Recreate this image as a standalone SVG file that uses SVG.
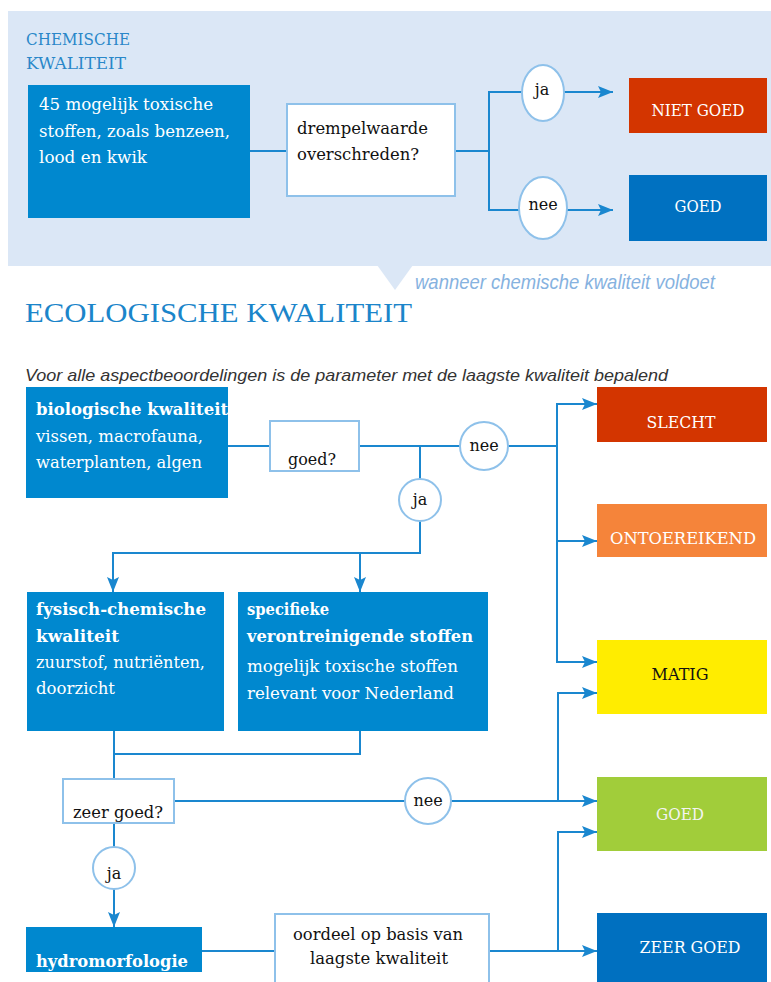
<svg xmlns="http://www.w3.org/2000/svg" width="771" height="982" viewBox="0 0 771 982">
<defs>
<style>
.t{font-family:"DejaVu Serif","Liberation Serif",serif;font-size:17px;}
.h{font-size:17.5px;}
.w{fill:#ffffff;}
.k{fill:#111111;}
.b{font-weight:bold;}
.c{text-anchor:middle;}
.box{fill:#0088cf;}
.q{fill:#ffffff;stroke:#8ec1ea;stroke-width:2;}
.cn{fill:none;stroke:#1a87cf;stroke-width:2;}
.ar{fill:none;stroke:#1a87cf;stroke-width:2;marker-end:url(#ah);}
.lbl{font-family:"DejaVu Serif","Liberation Serif",serif;font-size:16px;fill:#111111;text-anchor:middle;}
</style>
<marker id="ah" markerUnits="userSpaceOnUse" markerWidth="16" markerHeight="14" refX="15" refY="7" orient="auto">
<path d="M0,1 L15,7 L0,13 L3,7 z" fill="#1a87cf"/>
</marker>
</defs>

<!-- top panel -->
<g id="chem-panel">
<rect x="8" y="11" width="763" height="255" fill="#dbe7f6"/>
<polygon points="377,265 413,265 395,290" fill="#dbe7f6"/>
<text x="26" y="45" font-family="DejaVu Serif, Liberation Serif, serif" font-size="17" fill="#2a87c9" textLength="104" lengthAdjust="spacingAndGlyphs">CHEMISCHE</text>
<text x="26" y="69" font-family="DejaVu Serif, Liberation Serif, serif" font-size="17" fill="#2a87c9" textLength="100" lengthAdjust="spacingAndGlyphs">KWALITEIT</text>
</g>

<g id="connectors">
<!-- chemical -->
<line class="cn" x1="250" y1="151" x2="287" y2="151"/>
<line class="cn" x1="455" y1="151" x2="489" y2="151"/>
<line class="cn" x1="489" y1="91" x2="489" y2="211"/>
<line class="cn" x1="488" y1="92" x2="522" y2="92"/>
<line class="ar" x1="564" y1="92" x2="613" y2="92"/>
<line class="cn" x1="488" y1="210" x2="519" y2="210"/>
<line class="ar" x1="567" y1="210" x2="613" y2="210"/>
<!-- biological -->
<line class="cn" x1="228" y1="446" x2="270" y2="446"/>
<line class="cn" x1="359" y1="446" x2="460" y2="446"/>
<line class="cn" x1="508" y1="446" x2="558" y2="446"/>
<line class="cn" x1="557" y1="403" x2="557" y2="663"/>
<line class="ar" x1="556" y1="404" x2="597" y2="404"/>
<line class="ar" x1="556" y1="541" x2="597" y2="541"/>
<line class="ar" x1="556" y1="662" x2="597" y2="662"/>
<line class="cn" x1="420" y1="446" x2="420" y2="479"/>
<polyline class="cn" points="420,521 420,553 113,553"/>
<line class="ar" x1="113" y1="552" x2="113" y2="592"/>
<line class="ar" x1="360" y1="553" x2="360" y2="592"/>
<!-- middle -->
<polyline class="cn" points="114,731 114,754 360,754 360,731"/>
<line class="cn" x1="114" y1="754" x2="114" y2="779"/>
<line class="cn" x1="174" y1="801" x2="405" y2="801"/>
<line class="ar" x1="451" y1="801" x2="597" y2="801"/>
<polyline class="cn" points="558,801 558,693 575,693"/>
<line class="ar" x1="557" y1="693" x2="597" y2="693"/>
<line class="cn" x1="114" y1="823" x2="114" y2="847"/>
<line class="ar" x1="114" y1="889" x2="114" y2="927"/>
<!-- bottom -->
<line class="cn" x1="202" y1="951" x2="275" y2="951"/>
<line class="ar" x1="489" y1="951" x2="597" y2="951"/>
<polyline class="cn" points="558,951 558,832 575,832"/>
<line class="ar" x1="557" y1="832" x2="597" y2="832"/>
</g>

<g id="chem-source">
<rect class="box" x="28" y="85" width="222" height="133"/>
<text class="t w" x="39" y="110" textLength="174" lengthAdjust="spacingAndGlyphs">45 mogelijk toxische</text>
<text class="t w" x="39" y="137" textLength="191" lengthAdjust="spacingAndGlyphs">stoffen, zoals benzeen,</text>
<text class="t w" x="39" y="163" textLength="108" lengthAdjust="spacingAndGlyphs">lood en kwik</text>
</g>

<g id="chem-question">
<rect class="q" x="287" y="104" width="168" height="92"/>
<text class="t k" x="297" y="134" textLength="131" lengthAdjust="spacingAndGlyphs">drempelwaarde</text>
<text class="t k" x="297" y="160" textLength="122" lengthAdjust="spacingAndGlyphs">overschreden?</text>
</g>

<g id="chem-ja">
<ellipse class="q" cx="543" cy="93" rx="21" ry="28"/>
<text class="lbl" x="542" y="95">ja</text>
</g>
<g id="chem-nee">
<ellipse class="q" cx="543" cy="208" rx="24" ry="31"/>
<text class="lbl" x="543" y="210">nee</text>
</g>

<g id="chem-niet-goed">
<rect x="629" y="78" width="138" height="55" fill="#d33500"/>
<text class="t h w c" x="698" y="116" textLength="93" lengthAdjust="spacingAndGlyphs">NIET GOED</text>
</g>
<g id="chem-goed">
<rect x="629" y="175" width="138" height="66" fill="#0071c1"/>
<text class="t h w c" x="698" y="212" textLength="47" lengthAdjust="spacingAndGlyphs">GOED</text>
</g>

<text x="415" y="289" font-family="Liberation Sans, Arial, sans-serif" font-style="italic" font-size="21" fill="#86b2df" textLength="300" lengthAdjust="spacingAndGlyphs">wanneer chemische kwaliteit voldoet</text>

<text x="25" y="322" font-family="Liberation Serif, serif" font-size="28" fill="#1b85ca" textLength="387" lengthAdjust="spacingAndGlyphs">ECOLOGISCHE KWALITEIT</text>

<text x="25" y="381" font-family="Liberation Sans, Arial, sans-serif" font-style="italic" font-size="17" fill="#333333" textLength="643" lengthAdjust="spacingAndGlyphs">Voor alle aspectbeoordelingen is de parameter met de laagste kwaliteit bepalend</text>

<g id="bio">
<rect class="box" x="26" y="387" width="202" height="111"/>
<text class="t w b" x="36" y="415" textLength="192" lengthAdjust="spacingAndGlyphs">biologische kwaliteit</text>
<text class="t w" x="36" y="442" textLength="167" lengthAdjust="spacingAndGlyphs">vissen, macrofauna,</text>
<text class="t w" x="36" y="468" textLength="166" lengthAdjust="spacingAndGlyphs">waterplanten, algen</text>
</g>

<g id="goed-q">
<rect class="q" x="270" y="421" width="89" height="50"/>
<text class="t k c" x="312" y="465" textLength="48" lengthAdjust="spacingAndGlyphs">goed?</text>
</g>

<g id="bio-nee">
<circle class="q" cx="484" cy="446" r="24"/>
<text class="lbl" x="484" y="451">nee</text>
</g>
<g id="bio-ja">
<circle class="q" cx="420" cy="500" r="21"/>
<text class="lbl" x="420" y="505">ja</text>
</g>

<g id="fyschem">
<rect class="box" x="27" y="592" width="197" height="139"/>
<text class="t w b" x="36" y="615" textLength="170" lengthAdjust="spacingAndGlyphs">fysisch-chemische</text>
<text class="t w b" x="36" y="642" textLength="83" lengthAdjust="spacingAndGlyphs">kwaliteit</text>
<text class="t w" x="36" y="668" textLength="169" lengthAdjust="spacingAndGlyphs">zuurstof, nutriënten,</text>
<text class="t w" x="36" y="694" textLength="79" lengthAdjust="spacingAndGlyphs">doorzicht</text>
</g>

<g id="specifiek">
<rect class="box" x="238" y="592" width="250" height="139"/>
<text class="t w b" x="247" y="615" textLength="82" lengthAdjust="spacingAndGlyphs">specifieke</text>
<text class="t w b" x="247" y="642" textLength="226" lengthAdjust="spacingAndGlyphs">verontreinigende stoffen</text>
<text class="t w" x="247" y="672" textLength="211" lengthAdjust="spacingAndGlyphs">mogelijk toxische stoffen</text>
<text class="t w" x="247" y="699" textLength="207" lengthAdjust="spacingAndGlyphs">relevant voor Nederland</text>
</g>

<g id="zeergoed-q">
<rect class="q" x="63" y="779" width="111" height="44"/>
<text class="t k c" x="118" y="818" textLength="90" lengthAdjust="spacingAndGlyphs">zeer goed?</text>
</g>

<g id="mid-nee">
<circle class="q" cx="428" cy="801" r="23"/>
<text class="lbl" x="428" y="806">nee</text>
</g>
<g id="mid-ja">
<circle class="q" cx="114" cy="868" r="21"/>
<text class="lbl" x="114" y="879">ja</text>
</g>

<g id="hydro">
<rect class="box" x="26" y="927" width="176" height="45"/>
<text class="t w b" x="36" y="967" textLength="152" lengthAdjust="spacingAndGlyphs">hydromorfologie</text>
</g>

<g id="oordeel">
<rect class="q" x="275" y="914" width="214" height="80"/>
<text class="t k c" x="378" y="940" textLength="170" lengthAdjust="spacingAndGlyphs">oordeel op basis van</text>
<text class="t k c" x="379" y="964" textLength="138" lengthAdjust="spacingAndGlyphs">laagste kwaliteit</text>
</g>

<g id="slecht">
<rect x="597" y="387" width="170" height="55" fill="#d33500"/>
<text class="t h w c" x="681" y="428" textLength="69" lengthAdjust="spacingAndGlyphs">SLECHT</text>
</g>
<g id="ontoereikend">
<rect x="597" y="504" width="170" height="53" fill="#f5843a"/>
<text class="t h w c" x="683" y="544" textLength="146" lengthAdjust="spacingAndGlyphs">ONTOEREIKEND</text>
</g>
<g id="matig">
<rect x="597" y="640" width="170" height="74" fill="#ffed00"/>
<text class="t h k c" x="680" y="680" textLength="57" lengthAdjust="spacingAndGlyphs">MATIG</text>
</g>
<g id="goed">
<rect x="597" y="777" width="170" height="74" fill="#a1cd3a"/>
<text class="t h c" x="680" y="820" fill="#f4f4f4" textLength="48" lengthAdjust="spacingAndGlyphs">GOED</text>
</g>
<g id="zeer-goed">
<rect x="597" y="913" width="170" height="69" fill="#0070c0"/>
<text class="t h w c" x="690" y="953" textLength="101" lengthAdjust="spacingAndGlyphs">ZEER GOED</text>
</g>
</svg>
